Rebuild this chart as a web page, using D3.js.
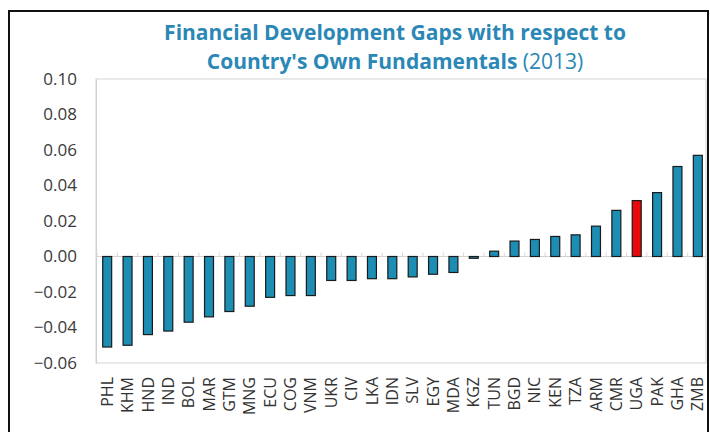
<!DOCTYPE html>
<html>
<head>
<meta charset="utf-8">
<script src="https://cdn.jsdelivr.net/npm/d3@7"></script>
<style>
  html, body { margin: 0; padding: 0; background: #fff; }
  svg { display: block; }
</style>
</head>
<body>
<svg id="chart" width="710" height="432"></svg>
<script>
// Financial development gaps relative to each country's own fundamentals, 2013
const countries = ["PHL","KHM","HND","IND","BOL","MAR","GTM","MNG","ECU","COG","VNM","UKR","CIV","LKA","IDN","SLV","EGY","MDA","KGZ","TUN","BGD","NIC","KEN","TZA","ARM","CMR","UGA","PAK","GHA","ZMB"];
const gaps = [-0.051,-0.050,-0.044,-0.042,-0.037,-0.034,-0.031,-0.028,-0.023,-0.022,-0.022,-0.0135,-0.0135,-0.0125,-0.0125,-0.0115,-0.010,-0.009,-0.001,0.003,0.0087,0.0096,0.0113,0.0122,0.0171,0.026,0.0315,0.036,0.0507,0.057];
const highlight = ["UGA"];
const yTicks = [0.10,0.08,0.06,0.04,0.02,0.00,-0.02,-0.04,-0.06];
const titleLine1 = "Financial Development Gaps with respect to";
const titleLine2Bold = "Country's Own Fundamentals";
const titleLine2Year = " (2013)";

const svg = d3.select("#chart");
const font = "'Open Sans', sans-serif";

// outer frame
svg.append("rect")
  .attr("x", 9).attr("y", 11).attr("width", 699).attr("height", 440)
  .attr("fill", "none").attr("stroke", "#111").attr("stroke-width", 2);

// title
const title = svg.append("g").attr("font-family", font).attr("fill", "#2b87b5").attr("text-anchor", "middle");
title.append("text").attr("x", 395).attr("y", 40)
  .attr("font-size", 21).attr("font-weight", "bold").text(titleLine1);
const t2 = title.append("text").attr("x", 395).attr("y", 69).attr("font-size", 21);
t2.append("tspan").attr("font-weight", "bold").text(titleLine2Bold);
t2.append("tspan").attr("font-weight", "normal").text(titleLine2Year);

const plotLeft = 96, plotRight = 706, plotTop = 79, plotBottom = 363;

const y = d3.scaleLinear().domain([-0.06, 0.10]).range([plotBottom, plotTop]);
const x = d3.scaleBand().domain(countries).range([97, 708]).paddingInner(0.56).paddingOuter(0.28);

// plot area box
svg.append("rect")
  .attr("x", plotLeft).attr("y", plotTop).attr("width", plotRight - plotLeft).attr("height", plotBottom - plotTop)
  .attr("fill", "none").attr("stroke", "#d6d6d6").attr("stroke-width", 1);

// y axis labels
const yAxis = d3.axisLeft(y).tickValues(yTicks).tickFormat(d3.format(".2f")).tickSize(0).tickPadding(19);
const gy = svg.append("g").attr("transform", `translate(${plotLeft},0)`).call(yAxis);
gy.select(".domain").attr("stroke", "#cfcfcf");
gy.selectAll("text").attr("font-family", font).attr("font-size", 17).attr("fill", "#3a3a3a");

// zero line with category ticks
const step = x.step();
const zeroAxis = d3.axisTop(x).tickSize(0).tickFormat("");
const gz = svg.append("g").attr("transform", `translate(0,${y(0)})`).call(zeroAxis);
gz.select(".domain").attr("stroke", "#d8d0d0").attr("d", `M${plotLeft},0H${plotRight}`);
gz.selectAll(".tick line").attr("stroke", "#e0d6d6").attr("y2", -4)
  .attr("transform", `translate(${-step / 2},0)`);

// bars
svg.append("g").selectAll("rect").data(countries).join("rect")
  .attr("x", d => x(d))
  .attr("width", x.bandwidth())
  .attr("y", (d, i) => y(Math.max(0, gaps[i])))
  .attr("height", (d, i) => Math.abs(y(gaps[i]) - y(0)))
  .attr("fill", d => highlight.includes(d) ? "#e8090c" : "#1c8eb4")
  .attr("stroke", "#1a1a1a").attr("stroke-width", 1.2);

// category labels, rotated
const xAxis = d3.axisBottom(x).tickSize(0).tickPadding(0);
const gx = svg.append("g").attr("transform", `translate(0,${plotBottom})`).call(xAxis);
gx.select(".domain").remove();
gx.selectAll("text")
  .attr("font-family", font).attr("font-size", 16).attr("fill", "#333")
  .attr("text-anchor", "end").attr("dy", "0.35em")
  .attr("transform", "translate(0,14) rotate(-90)")
  .attr("x", 0).attr("y", 0);
</script>
</body>
</html>
